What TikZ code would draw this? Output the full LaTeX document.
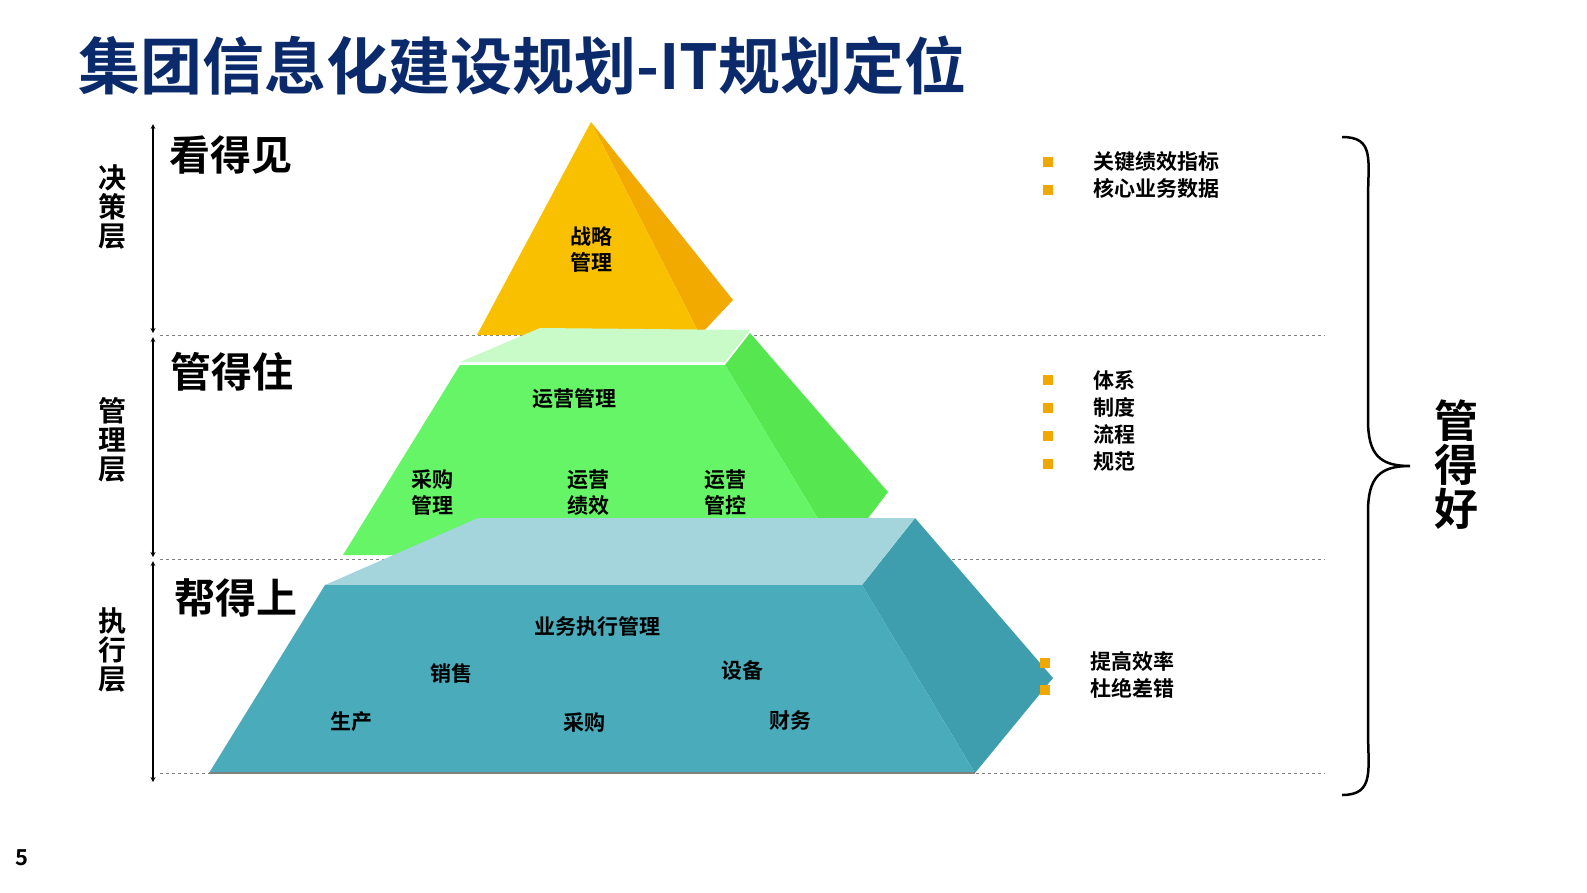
\documentclass[tikz,border=0pt]{standalone}
\usepackage{fontspec}
\setmainfont{Noto Sans CJK SC Bold}
\definecolor{navy}{HTML}{0B2A6B}
\definecolor{gold}{HTML}{F9C000}
\definecolor{goldd}{HTML}{F2A900}
\definecolor{grn}{HTML}{66F566}
\definecolor{grnd}{HTML}{55E650}
\definecolor{teal}{HTML}{4AABBA}
\definecolor{teald}{HTML}{3F9EAE}
\definecolor{bul}{HTML}{F0A800}
\begin{document}
\begin{tikzpicture}[x=1pt,y=-1pt,
 lbl/.style={font=\fontsize{21}{26}\selectfont,align=center},
 big/.style={font=\fontsize{41}{44}\selectfont},
 side/.style={font=\fontsize{28}{29}\selectfont,align=center},
 rt/.style={font=\fontsize{21}{27}\selectfont,align=left,anchor=west},
 dashline/.style={gray,dashed,line width=1pt},
 arr/.style={<->,>=stealth,line width=1.2pt}]
\useasboundingbox (0,0) rectangle (1587,892);
\node[anchor=west,text=navy,font=\fontsize{62}{64}\selectfont] (title) at (75,66) {集团信息化建设规划-IT规划定位};
\draw[dashline] (160,335) -- (1325,335);
\draw[dashline] (160,559) -- (1325,559);
\draw[dashline] (160,773) -- (1325,773);
\fill[goldd] (591,122) -- (733,300) -- (700,335) -- cycle;
\fill[gold] (591,122) -- (700,335) -- (477,335) -- cycle;
\fill[grnd] (725,365) -- (750,333) -- (888,492) -- (840,555) -- cycle;
\fill[grn!35] (460,362) -- (540,328) -- (750,330) -- (725,362) -- cycle;
\fill[grn] (460,365) -- (725,365) -- (840,555) -- (343,555) -- cycle;
\fill[teald] (862,585) -- (915,518) -- (1053,678) -- (975,773) -- cycle;
\fill[teal!50!white] (325,585) -- (478,518) -- (915,518) -- (862,585) -- cycle;
\fill[teal] (325,585) -- (862,585) -- (975,773) -- (209,773) -- cycle;
\draw[gray,line width=1.5pt] (209,773) -- (975,773);
\node[lbl] (n1) at (591,250) {战略\\管理};
\node[lbl] (n2) at (574,399) {运营管理};
\node[lbl] (n3) at (432,493) {采购\\管理};
\node[lbl] (n4) at (588,493) {运营\\绩效};
\node[lbl] (n5) at (725,493) {运营\\管控};
\node[lbl] (n6) at (597,626) {业务执行管理};
\node[lbl] (n7) at (451,673) {销售};
\node[lbl] (n8) at (742,670) {设备};
\node[lbl] (n9) at (351,722) {生产};
\node[lbl] (n10) at (584,722) {采购};
\node[lbl] (n11) at (790,720) {财务};
\draw[arr] (153,124) -- (153,333);
\draw[arr] (153,337) -- (153,557);
\draw[arr] (153,561) -- (153,782);
\node[side] (s1) at (112,207) {决\\策\\层};
\node[side] (s2) at (112,440) {管\\理\\层};
\node[side] (s3) at (112,650) {执\\行\\层};
\node[big] (b1) at (231,155) {看得见};
\node[big] (b2) at (232,372) {管得住};
\node[big] (b3) at (236,598) {帮得上};
\foreach \y in {162,190,380,408,436,464} \fill[bul] (1043,\y-5) rectangle (1053,\y+5);
\foreach \y in {663,690} \fill[bul] (1040,\y-5) rectangle (1050,\y+5);
\node[rt] (r1) at (1090,175) {关键绩效指标\\核心业务数据};
\node[rt] (r2) at (1090,421) {体系\\制度\\流程\\规范};
\node[rt] (r3) at (1087,675) {提高效率\\杜绝差错};
\draw[line width=2.5pt] (1342,137) .. controls (1375,137) and (1368,160) .. (1368,200) -- (1368,420) .. controls (1368,455) and (1380,466) .. (1410,466) .. controls (1380,466) and (1368,477) .. (1368,512) -- (1368,730) .. controls (1368,770) and (1375,795) .. (1342,795);
\node[font=\fontsize{44}{44}\selectfont,align=center] (g) at (1456,465) {管\\得\\好};
\node[font=\fontsize{22}{24}\selectfont\rmfamily] (p) at (22,858) {5};
\end{tikzpicture}
\end{document}
